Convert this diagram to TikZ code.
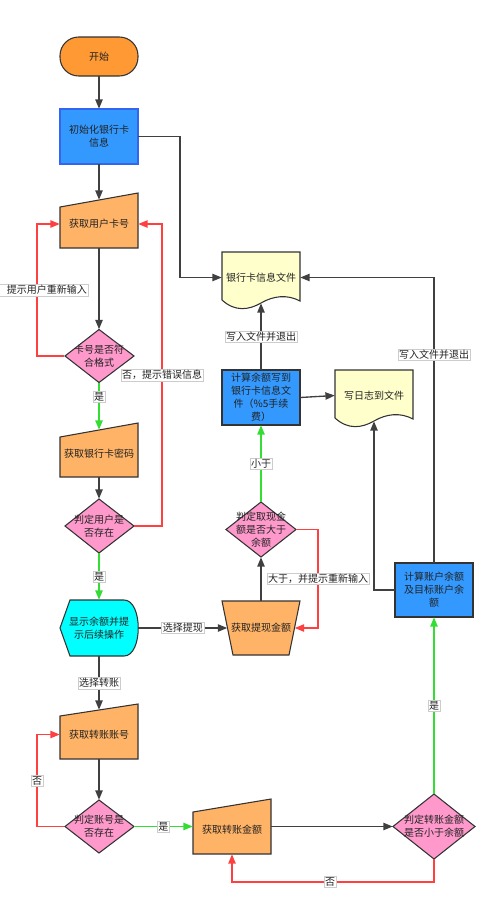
\documentclass[tikz,border=0pt]{standalone}
\usepackage{fontspec}
\setmainfont{Noto Sans CJK SC}
\usetikzlibrary{arrows.meta,calc}
\definecolor{corange}{HTML}{FF9933}
\definecolor{cinput}{HTML}{FFB366}
\definecolor{cblue}{HTML}{3399FF}
\definecolor{iblue}{HTML}{3366EE}
\definecolor{cpink}{HTML}{FF99CC}
\definecolor{cdoc}{HTML}{FFFFCC}
\definecolor{ccyan}{HTML}{00FFFF}
\definecolor{lgray}{HTML}{404040}
\definecolor{cred}{HTML}{FF4040}
\definecolor{cgreen}{HTML}{33DD33}
\definecolor{ctext}{HTML}{222222}
\begin{document}
\begin{tikzpicture}[x=0.75pt,y=-0.75pt,
  txt/.style={inner sep=0pt, align=center, font=\fontsize{7.5pt}{9.75pt}\selectfont, text=ctext},
  sz/.style 2 args={minimum width=#1, minimum height=#2},
  shp/.style={draw=black!80, line width=0.8pt},
  lk/.style={draw=lgray, line width=1pt, -{Triangle[length=7pt,width=5.5pt]}},
  lkg/.style={draw=cgreen, line width=1pt, -{Triangle[length=7pt,width=5.5pt]}},
  lkr/.style={draw=cred, line width=1pt, -{Triangle[length=7pt,width=5.5pt]}},
  lbl/.style={fill=white, draw=black!20, line width=0.3pt, inner sep=0.8pt, font=\fontsize{7.5pt}{9pt}\selectfont, text=ctext}]
\useasboundingbox (0,0) rectangle (500,907);
\clip (0,0) rectangle (500,907);

% ---------- shapes ----------
\draw[shp, fill=corange, rounded corners=14pt] (60,37) rectangle (138,76);
\draw[line width=0.8pt, draw=iblue, fill=cblue] (60,109) rectangle (138,164);
\draw[shp, fill=cinput] (60,207) -- (138,193) -- (138,248) -- (60,248) -- cycle;
\draw[shp, fill=cpink] (65,356) -- (99,329.5) -- (134,356) -- (99,382.5) -- cycle;
\draw[shp, fill=cinput] (60,437) -- (138,423) -- (138,477) -- (60,477) -- cycle;
\draw[shp, fill=cpink] (65,526) -- (99,499) -- (134,526) -- (99,553) -- cycle;
\draw[shp, fill=ccyan] (60,628) -- (70,600) -- (124,600) .. controls (143,600) and (143,656) .. (124,656) -- (70,656) -- cycle;
\draw[shp, fill=cinput] (222,601) -- (300,601) -- (289,655) -- (233,655) -- cycle;
\draw[shp, fill=cinput] (60,716) -- (138,704) -- (138,759) -- (60,759) -- cycle;
\draw[shp, fill=cpink] (65,826.5) -- (99,800) -- (134,826.5) -- (99,853) -- cycle;
\draw[shp, fill=cinput] (193,812) -- (271,799) -- (271,854) -- (193,854) -- cycle;
\draw[shp, fill=cpink] (393,826.5) -- (434,794) -- (475,826.5) -- (434,859) -- cycle;
\draw[shp, fill=cblue] (395,563) rectangle (473,617);
\draw[shp, fill=cdoc] (335,370) -- (413,370) -- (413,419) .. controls (400,412) and (386,414) .. (374,421) .. controls (362,428) and (348,430) .. (335,418) -- cycle;
\draw[shp, fill=cdoc] (222,252) -- (300,252) -- (300,301) .. controls (287,294) and (273,296) .. (261,303) .. controls (249,310) and (235,312) .. (222,300) -- cycle;
\draw[shp, fill=cblue] (222,370) rectangle (300,425);
\draw[shp, fill=cpink] (226,529.5) -- (261,502) -- (296,529.5) -- (261,557) -- cycle;

% ---------- nodes ----------
\node[txt, sz={58.5pt}{29.25pt}] (start) at (99,56.5) {开始};
\node[txt, sz={58.5pt}{41.25pt}] (init) at (99,136.5) {初始化银行卡\\信息};
\node[txt, sz={58.5pt}{36pt}] (card) at (99,224) {获取用户卡号};
\node[txt, sz={51.75pt}{39.75pt}] (d1) at (99,356) {卡号是否符\\合格式};
\node[txt, sz={58.5pt}{35.25pt}] (pwd) at (99,453.5) {获取银行卡密码};
\node[txt, sz={51.75pt}{40.5pt}] (d2) at (99,526) {判定用户是\\否存在};
\node[txt, sz={58.5pt}{42pt}] (disp) at (99,628) {显示余额并提\\示后续操作};
\node[txt, sz={50.25pt}{40.5pt}] (wd) at (261,628) {获取提现金额};
\node[txt, sz={58.5pt}{36.75pt}] (acct) at (99,734.5) {获取转账账号};
\node[txt, sz={51.75pt}{39.75pt}] (d3) at (99,826.5) {判定账号是\\否存在};
\node[txt, sz={58.5pt}{36.375pt}] (amt) at (232,829.75) {获取转账金额};
\node[txt, sz={61.5pt}{48.75pt}] (d4) at (434,826.5) {判定转账金额\\是否小于余额};
\node[txt, sz={58.5pt}{40.5pt}] (calc2) at (434,590) {计算账户余额\\及目标账户余\\额};
\node[txt, sz={58.5pt}{38.25pt}] (log) at (374,395.5) {写日志到文件};
\node[txt, sz={58.5pt}{38.25pt}] (bankfile) at (261,277.5) {银行卡信息文件};
\node[txt, sz={58.5pt}{41.25pt}] (calc1) at (261,397.5) {计算余额写到\\银行卡信息文\\件（\%5手续\\费）};
\node[txt, sz={52.5pt}{41.25pt}] (d5) at (261,529.5) {判定取现金\\额是否大于\\余额};

\coordinate (lx) at (37,0);
\coordinate (rx) at (162,0);
\coordinate (r2) at (318,0);
\coordinate (j1) at (180,0);
\coordinate (by) at (330,882);

% ---------- connectors ----------
\draw[lk] (start.south) -- (init.north);
\draw[lk] (init.south) -- (card.north);
\draw[lk] (init.east) -- (init.east -| j1) |- (bankfile.west);
\draw[lk] (card.south) -- (d1.north);
\draw[lkg] (d1.south) -- node[lbl,pos=0.3]{是} (pwd.north);
\draw[lkr] (d1.west) -- (d1.west -| lx) |- node[lbl,pos=0.25]{否，提示用户重新输入} (card.west);
\draw[lk] (pwd.south) -- (d2.north);
\draw[lkr] (d2.east) -- (d2.east -| rx) |- node[lbl,pos=0.25]{否，提示错误信息} (card.east);
\draw[lkg] (d2.south) -- node[lbl]{是} (disp.north);
\draw[lk] (disp.east) -- node[lbl]{选择提现} (wd.west);
\draw[lk] (disp.south) -- node[lbl]{选择转账} (acct.north);
\draw[lk] (acct.south) -- (d3.north);
\draw[lkr] (d3.west) -- (d3.west -| lx) |- node[lbl,pos=0.25]{否} (acct.west);
\draw[lkg] (d3.east) -- node[lbl]{是} (d3.east -| amt.west);
\draw[lk] (amt.east |- d4.west) -- (d4.west);
\draw[lkr] (d4.south) |- (by) node[lbl]{否} -| (amt.south);
\draw[lkg] (d4.north) -- node[lbl]{是} (calc2.south);
\draw[lk] (calc2.west) -| (log.south);
\draw[lk] (calc2.north) |- node[lbl,pos=0.365]{写入文件并退出} (bankfile.east);
\draw[lk] (wd.north) -- (d5.south);
\draw[lkg] (d5.north) -- node[lbl]{小于} (calc1.south);
\draw[lkr] (d5.east) -- (d5.east -| r2) |- node[lbl,pos=0.25]{大于，并提示重新输入} (wd.east);
\draw[lk] (calc1.north) -- node[lbl]{写入文件并退出} (bankfile.south);
\draw[lk] (calc1.east) -- (log.west);
\end{tikzpicture}
\end{document}
